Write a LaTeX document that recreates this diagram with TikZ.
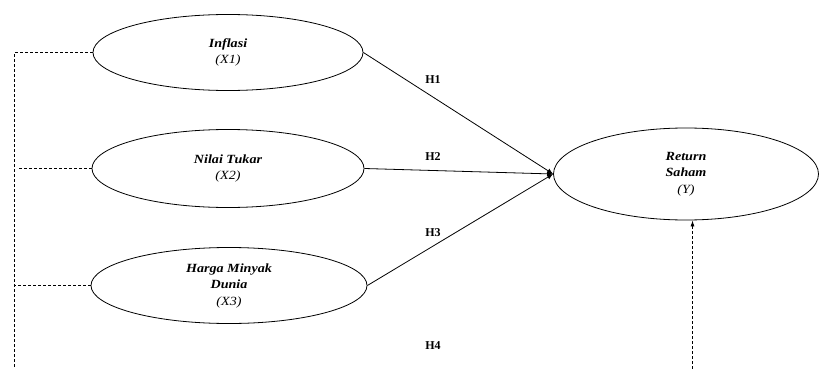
\documentclass[tikz,border=0pt]{standalone}
\usepackage{fontspec}
\setmainfont{Liberation Serif}
\newfontfamily\lebar[FakeStretch=1.13]{Liberation Serif}
\usetikzlibrary{arrows.meta,shapes.geometric}
\tikzset{
	var/.style={draw, ellipse, line width=0.8pt, inner sep=0pt, align=center,
		font=\lebar\fontsize{12.5}{16.5}\selectfont\itshape},
	hyp/.style={font=\fontsize{12}{14}\selectfont\bfseries},
	kontrol/.style={line width=0.7pt, dash pattern=on 3pt off 2pt},
	pengaruh/.style={line width=0.8pt, -{Latex[length=6pt,width=5pt]}}
}
\newcommand{\nama}[1]{\textbf{#1}}

\begin{document}
\begin{tikzpicture}[x=1pt,y=-1pt]
	\useasboundingbox (0,0) rectangle (819,369);
	% variabel
	\node[var, minimum width=270, minimum height=76] (x1) at (228,52.5) {\nama{Inflasi}\\(X1)};
	\node[var, minimum width=272, minimum height=78] (x2) at (228,168.5) {\nama{Nilai Tukar}\\(X2)};
	\node[var, minimum width=276, minimum height=76] (x3) at (229,285.5) {\nama{Harga Minyak}\\\nama{Dunia}\\(X3)};
	\node[var, minimum width=265, minimum height=92] (y) at (686,174) {\nama{Return}\\\nama{Saham}\\(Y)};
	% hipotesis
	\node[hyp] (h1) at (433,80) {H1};
	\node[hyp] (h2) at (433,157) {H2};
	\node[hyp] (h3) at (433,233) {H3};
	\node[hyp] (h4) at (433,346) {H4};
	% garis putus-putus
	\coordinate (a1) at (14.5,52.5);
	\coordinate (a2) at (17,168.5);
	\coordinate (a3) at (15,285.5);
	\coordinate (a4) at (14.5,369);
	\coordinate (b) at (692.5,369);
	\draw[kontrol] (x1.west) -- (a1) -- (a4);
	\draw[kontrol] (x2.west) -- (a2);
	\draw[kontrol] (x3.west) -- (a3);
	\draw[kontrol, -{Latex[length=6pt,width=4pt]}] (b) -- (b |- y.south);
	% panah
	\draw[pengaruh] (x1.east) -- (y.west);
	\draw[pengaruh] (x2.east) -- (y.west);
	\draw[pengaruh] (x3.east) -- (y.west);
\end{tikzpicture}
\end{document}
